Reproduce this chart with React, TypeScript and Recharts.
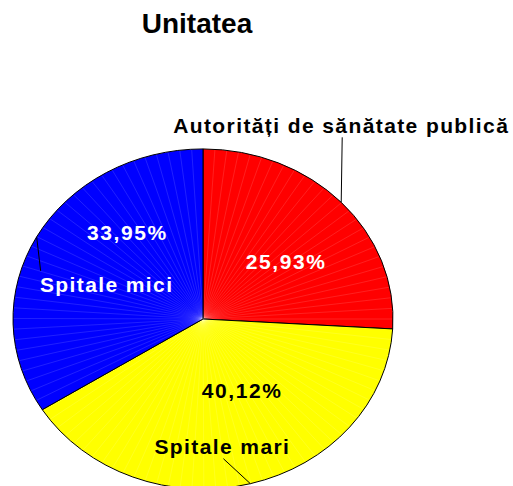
import { Cell, Pie, PieChart } from "recharts";

// Share of respondents by type of unit (percent)
const categories = ["Autorități de sănătate publică", "Spitale mari", "Spitale mici"];
const shares = [25.93, 40.12, 33.95];
const colors = ["#ff0000", "#ffff00", "#0000ff"];
const pctColors = ["#ffffff", "#000000", "#ffffff"];
const nameColors = ["#000000", "#000000", "#ffffff"];

const data = categories.map((name, i) => ({ name, value: shares[i] }));

const FONT = "'Liberation Sans', Arial, Helvetica, sans-serif";
const RAD = Math.PI / 180;
// the original pie is drawn a bit flatter than a circle
const SQUASH = 0.895;

// hand-placed labels (the source had them dragged around):
// pct: radius fraction + angle nudge from midAngle
// name: offset of leader end and text baseline from the edge point
const pctLayout = [
  { r: 0.55, shift: -6 },
  { r: 0.47, shift: 11.5 },
  { r: 0.645, shift: -23 },
];
const nameLayout = [
  { lx: 1, ly: -65, tx: 0, ty: -69 },
  { lx: -27, ly: -25, tx: -28, ty: -30 },
  { lx: 4, ly: 34, tx: 70, ty: 55 },
];

function pt(cx: number, cy: number, r: number, deg: number) {
  return [cx + r * Math.cos(-deg * RAD), cy + r * SQUASH * Math.sin(-deg * RAD)];
}

function Wedge(props: any) {
  const { cx, cy, startAngle, endAngle, outerRadius, fill } = props;
  const [x1, y1] = pt(cx, cy, outerRadius, startAngle);
  const [x2, y2] = pt(cx, cy, outerRadius, endAngle);
  const span = Math.abs(startAngle - endAngle);
  const large = span > 180 ? 1 : 0;
  const sweep = startAngle > endAngle ? 1 : 0;
  const d = `M${cx},${cy} L${x1},${y1} A${outerRadius},${outerRadius * SQUASH} 0 ${large} ${sweep} ${x2},${y2} Z`;
  // faint radial banding like the old office renderer
  const rays = [];
  const step = 3.6;
  const dir = startAngle > endAngle ? -1 : 1;
  for (let a = step; a < span; a += step) {
    const [rx, ry] = pt(cx, cy, outerRadius, startAngle + dir * a);
    rays.push(
      <line key={a} x1={cx} y1={cy} x2={rx} y2={ry} stroke="#fff" strokeOpacity={0.25} strokeWidth={0.5} />
    );
  }
  return (
    <g>
      <path d={d} fill={fill} stroke="none" />
      {rays}
      <path d={d} fill="none" stroke="#000" strokeWidth={1} />
    </g>
  );
}

function renderLabel(props: any) {
  const { cx, cy, midAngle, outerRadius, index, value } = props;
  const p = pctLayout[index];
  const n = nameLayout[index];
  const [px, py] = pt(cx, cy, outerRadius * p.r, midAngle + p.shift);
  const [ex, ey] = pt(cx, cy, outerRadius, midAngle);
  const txt = value.toFixed(2).replace(".", ",") + "%";
  return (
    <g key={index}>
      <text
        x={px}
        y={py + 7}
        textAnchor="middle"
        fill={pctColors[index]}
        fontFamily={FONT}
        fontWeight="bold"
        fontSize={21}
        letterSpacing={1.6}
      >
        {txt}
      </text>
      <line x1={ex} y1={ey} x2={ex + n.lx} y2={ey + n.ly} stroke="#000" strokeWidth={1} />
      <text
        x={ex + n.tx}
        y={ey + n.ty}
        textAnchor="middle"
        fill={nameColors[index]}
        fontFamily={FONT}
        fontWeight="bold"
        fontSize={21}
        letterSpacing={1.4}
      >
        {categories[index]}
      </text>
    </g>
  );
}

export default function App() {
  return (
    <div style={{ position: "absolute", left: 0, top: 0, width: 513, height: 486, background: "#fff", overflow: "hidden" }}>
      <div
        style={{
          position: "absolute",
          left: 0,
          width: 394,
          top: 8,
          textAlign: "center",
          fontFamily: FONT,
          fontWeight: "bold",
          fontSize: 28,
          lineHeight: "32px",
          color: "#000",
        }}
      >
        Unitatea
      </div>
      <PieChart
        width={513}
        height={486}
        margin={{ top: 0, right: 0, bottom: 0, left: 0 }}
        style={{ position: "absolute", left: 0, top: 0 }}
      >
        <Pie
          data={data}
          dataKey="value"
          nameKey="name"
          cx={203}
          cy={319}
          outerRadius={190}
          startAngle={90}
          endAngle={-270}
          shape={Wedge}
          label={renderLabel}
          labelLine={false}
          stroke="#000"
          isAnimationActive={false}
        >
          {data.map((_, i) => (
            <Cell key={i} fill={colors[i]} />
          ))}
        </Pie>
      </PieChart>
    </div>
  );
}
